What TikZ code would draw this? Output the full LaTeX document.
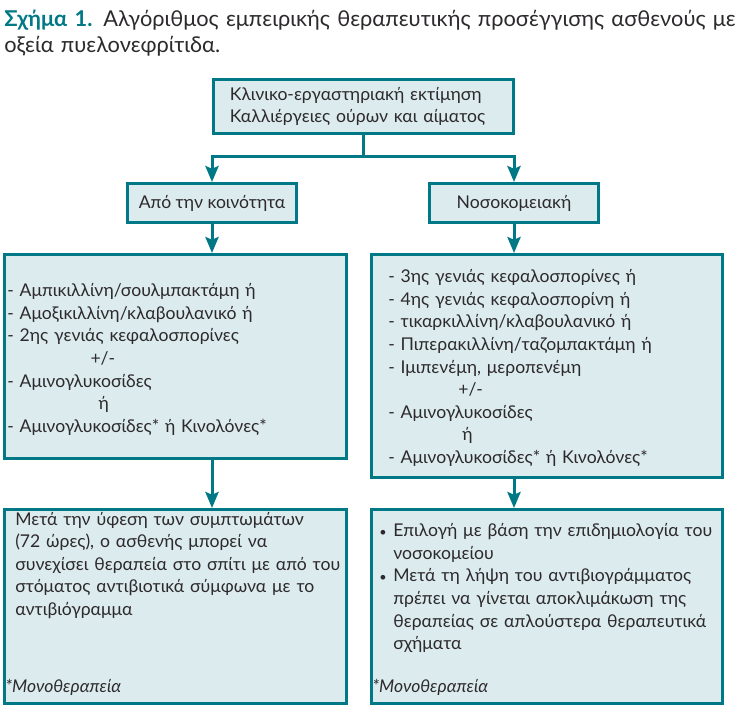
\documentclass[tikz,border=0pt]{standalone}
\usepackage{fontspec}
\setmainfont{Lato}
\usetikzlibrary{arrows.meta,positioning}
\definecolor{boxline}{RGB}{0,120,133}
\definecolor{boxfill}{RGB}{220,235,238}
\definecolor{inkgray}{RGB}{45,42,45}

\begin{document}
\begin{tikzpicture}[
    x=0.025cm, y=-0.025cm,
    box/.style={draw=boxline, fill=boxfill, line width=0.075cm, text=inkgray,
        font=\fontsize{12.5}{16.1}\selectfont, align=left},
    txt/.style={inner sep=0pt, text=inkgray, font=\fontsize{12.5}{16.1}\selectfont, align=left},
    link/.style={draw=boxline, line width=0.075cm},
    flow/.style={link, -{Stealth[length=0.4cm, width=0.33cm, inset=0.07cm]}}
]
    \useasboundingbox (0,0) rectangle (742,724);

    % τίτλος
    \node[txt, anchor=base west, text width=18.4cm, font=\fontsize{15.5}{18.5}\selectfont] (title) at (4,26)
        {\textcolor{boxline}{\textbf{Σχήμα 1.}} Αλγόριθμος εμπειρικής θεραπευτικής προσέγγισης ασθενούς με\\οξεία πυελονεφρίτιδα.};

    % εκτίμηση
    \node[box, minimum width=7.5cm, minimum height=1.35cm, inner xsep=0.41cm, text width=6.68cm] (exam) at (363.5,106.5)
        {Κλινικο-εργαστηριακή εκτίμηση\\Καλλιέργειες ούρων και αίματος};

    % προέλευση
    \node[box, align=center, minimum width=4.225cm, minimum height=0.975cm] (comm) at (212,203) {Από την κοινότητα};
    \node[box, align=center, minimum width=4.225cm, minimum height=0.975cm] (hosp) at (514,203) {Νοσοκομειακή};

    % αρχική αγωγή
    \node[box, minimum width=8.55cm, minimum height=5.1cm] (lmid) at (175.5,356.5) {};
    \node[box, minimum width=8.775cm, minimum height=5.575cm] (rmid) at (547,366) {};

    \node[txt, anchor=base west, text width=9cm] (lmidtext) at (7,296.5)
        {- Αμπικιλλίνη/σουλμπακτάμη ή\\
         - Αμοξικιλλίνη/κλαβουλανικό ή\\
         - 2ης γενιάς κεφαλοσπορίνες\\
         \hspace*{2.08cm}+/-\\
         - Αμινογλυκοσίδες\\
         \hspace*{2.28cm}ή\\
         - Αμινογλυκοσίδες* ή Κινολόνες*};
    \node[txt, anchor=base west, text width=9cm] (rmidtext) at (388,282.5)
        {- 3ης γενιάς κεφαλοσπορίνες ή\\
         - 4ης γενιάς κεφαλοσπορίνη ή\\
         - τικαρκιλλίνη/κλαβουλανικό ή\\
         - Πιπερακιλλίνη/ταζομπακτάμη ή\\
         - Ιμιπενέμη, μεροπενέμη\\
         \hspace*{1.75cm}+/-\\
         - Αμινογλυκοσίδες\\
         \hspace*{1.85cm}ή\\
         - Αμινογλυκοσίδες* ή Κινολόνες*};

    % συνέχεια
    \node[box, minimum width=8.55cm, minimum height=4.85cm] (lbot) at (175.5,606.5) {};
    \node[box, minimum width=8.775cm, minimum height=4.85cm] (rbot) at (547,606.5) {};

    \node[txt, anchor=base west, text width=9.5cm] (lbottext) at (15,525)
        {Μετά την ύφεση των συμπτωμάτων\\
         (72 ώρες), ο ασθενής μπορεί να\\
         συνεχίσει θεραπεία στο σπίτι με από του\\
         στόματος αντιβιοτικά σύμφωνα με το\\
         αντιβιόγραμμα};
    \node[txt, anchor=base west, text width=9.5cm] (rbottext) at (379,536.5)
        {\makebox[0.35cm][l]{\small •}Επιλογή με βάση την επιδημιολογία του\\
         \hspace*{0.35cm}νοσοκομείου\\
         \makebox[0.35cm][l]{\small •}Μετά τη λήψη του αντιβιογράμματος\\
         \hspace*{0.35cm}πρέπει να γίνεται αποκλιμάκωση της\\
         \hspace*{0.35cm}θεραπείας σε απλούστερα θεραπευτικά\\
         \hspace*{0.35cm}σχήματα};
    \node[txt, anchor=base west] (lnote) at (5,692) {\textit{*Μονοθεραπεία}};
    \node[txt, anchor=base west] (rnote) at (372,692) {\textit{*Μονοθεραπεία}};

    % συνδέσεις
    \coordinate (split) at (363.5,156);
    \draw[link] (exam.south) -- (split);
    \draw[flow] (split) -| (comm.north);
    \draw[flow] (split) -| (hosp.north);
    \draw[flow] (comm.south) -- (comm.south |- lmid.north);
    \draw[flow] (hosp.south) -- (hosp.south |- rmid.north);
    \draw[flow] (comm.south |- lmid.south) -- (comm.south |- lbot.north);
    \draw[flow] (hosp.south |- rmid.south) -- (hosp.south |- rbot.north);
\end{tikzpicture}
\end{document}
